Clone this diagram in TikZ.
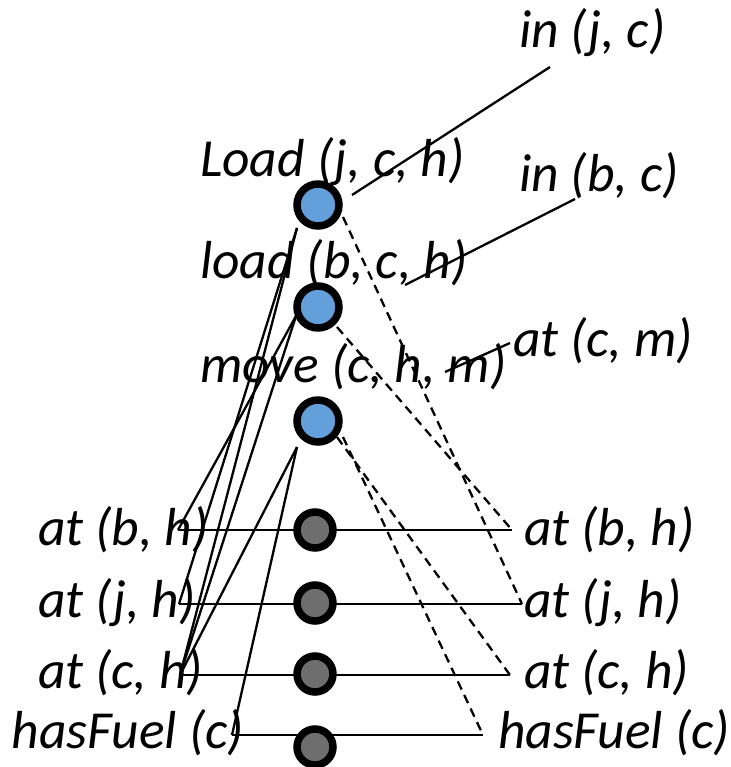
\documentclass[tikz,border=0pt]{standalone}
\usepackage{fontspec}
\setmainfont{Carlito}
\begin{document}
\begin{tikzpicture}[x=1pt,y=-1pt,
  lbl/.style={anchor=base west,inner sep=0pt,outer sep=0pt,font=\fontsize{53.5}{60}\selectfont\itshape},
  conn/.style={line width=2.3pt},
  dconn/.style={line width=2.3pt,dash pattern=on 9pt off 6pt},
  act/.style={circle,draw=black,line width=7.5pt,fill=actblue,minimum size=42pt,inner sep=0pt},
  noop/.style={circle,draw=black,line width=7.5pt,fill=noopgrey,minimum size=36pt,inner sep=0pt}]
\definecolor{actblue}{HTML}{629FDB}
\definecolor{noopgrey}{HTML}{6E6E6E}
\useasboundingbox (0,0) rectangle (730,767);
% labels
\node[lbl] (tA) at (200,177) {Load (j, c, h)};
\node[lbl] (tB) at (200,278) {load (b, c, h)};
\node[lbl] (tC) at (200,382) {move (c, h, m)};
\node[lbl] (inj) at (519,48) {in (j, c)};
\node[lbl] (inb) at (519,192) {in (b, c)};
\node[lbl] (atcm) at (513,356) {at (c, m)};
\node[lbl] (Lbh) at (38,545) {at (b, h)};
\node[lbl] (Ljh) at (38,617) {at (j, h)};
\node[lbl] (Lch) at (38,688) {at (c, h)};
\node[lbl] (Lhf) at (12,748) {hasFuel (c)};
\node[lbl] (Rbh) at (524,545) {at (b, h)};
\node[lbl] (Rjh) at (524,617) {at (j, h)};
\node[lbl] (Rch) at (524,688) {at (c, h)};
\node[lbl] (Rhf) at (498,748) {hasFuel (c)};
% connector end points
\coordinate (Al) at (297,228);
\coordinate (Bl) at (296,316);
\coordinate (Cl) at (297,447);
\coordinate (Ar) at (352,195);
\coordinate (Br) at (405,285);
\coordinate (Cr) at (445,372);
\coordinate (Ad) at (343,217);
\coordinate (Bd) at (337,327);
\coordinate (Cd1) at (337,437);
\coordinate (Cd2) at (343,437);
\coordinate (injE) at (550,67);
\coordinate (inbE) at (575,199);
\coordinate (atcmE) at (510,343);
\coordinate (LbhE) at (178,530);
\coordinate (LjhE) at (179,604);
\coordinate (LchE) at (180,675);
\coordinate (LhfE) at (232,735);
\coordinate (RbhE) at (512,530);
\coordinate (RjhE) at (522,604);
\coordinate (RchE) at (510,675);
\coordinate (RhfE) at (483,735);
% horizontal noop lines
\draw[conn] (LbhE) -- (RbhE);
\draw[conn] (LjhE) -- (RjhE);
\draw[conn] (LchE) -- (RchE);
\draw[conn] (LhfE) -- (RhfE);
% preconditions
\draw[conn] (Al) -- (LjhE);
\draw[conn] (Al) -- (LchE);
\draw[conn] (Bl) -- (LbhE);
\draw[conn] (Bl) -- (LchE);
\draw[conn] (Cl) -- (LchE);
\draw[conn] (Cl) -- (LhfE);
% add effects
\draw[conn] (Ar) -- (injE);
\draw[conn] (Br) -- (inbE);
\draw[conn] (Cr) -- (atcmE);
% delete effects
\draw[dconn] (Ad) -- (RjhE);
\draw[dconn] (Bd) -- (RbhE);
\draw[dconn] (Cd1) -- (RchE);
\draw[dconn] (Cd2) -- (RhfE);
% nodes
\node[act] (A) at (318,205) {};
\node[act] (B) at (318,307) {};
\node[act] (C) at (318,421) {};
\node[noop] (N1) at (315,530) {};
\node[noop] (N2) at (315,603) {};
\node[noop] (N3) at (315,674) {};
\node[noop] (N4) at (315,747) {};
\end{tikzpicture}
\end{document}
